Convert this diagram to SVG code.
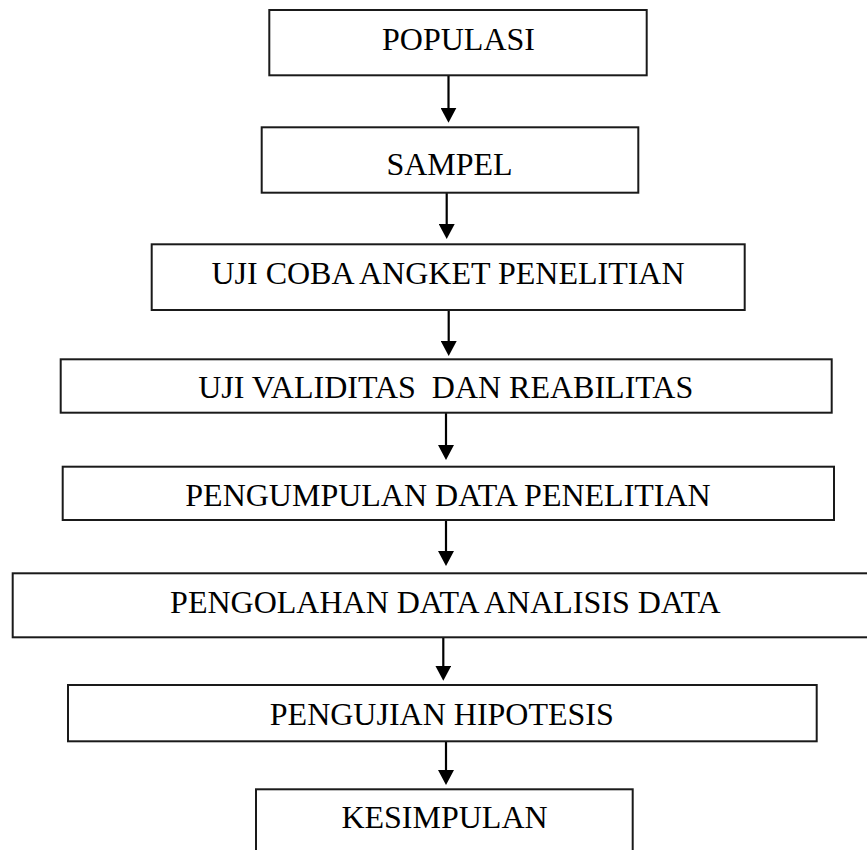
<svg xmlns="http://www.w3.org/2000/svg" width="867" height="850" viewBox="0 0 867 850">
  <style>
    .box { fill: #ffffff; stroke: #1a1a1a; stroke-width: 2; }
    .lbl { font-family: "Liberation Serif", "Times New Roman", serif; font-size: 32px; fill: #000000; text-anchor: middle; white-space: pre; }
    .con { stroke: #000000; stroke-width: 2.2; fill: none; marker-end: url(#arr); }
  </style>
  <defs>
    <marker id="arr" viewBox="0 0 15 16" refX="9" refY="8" markerWidth="15" markerHeight="16" markerUnits="userSpaceOnUse" orient="auto">
      <path d="M0,0 L15,8 L0,16 Z" fill="#000000"/>
    </marker>
  </defs>
  <rect width="867" height="850" fill="#ffffff"/>

  <g id="connectors">
    <line class="con" x1="448.5" y1="76" x2="448.5" y2="116.7"/>
    <line class="con" x1="446.7" y1="193" x2="446.7" y2="233"/>
    <line class="con" x1="448.7" y1="310" x2="448.7" y2="350"/>
    <line class="con" x1="446" y1="413" x2="446" y2="454"/>
    <line class="con" x1="446" y1="520" x2="446" y2="560"/>
    <line class="con" x1="443.3" y1="635" x2="443.3" y2="674.7"/>
    <line class="con" x1="446" y1="741" x2="446" y2="779"/>
  </g>

  <g id="populasi">
    <rect class="box" x="269.3" y="10" width="377.4" height="65.3"/>
    <text class="lbl" x="458.5" y="50">POPULASI</text>
  </g>
  <g id="sampel">
    <rect class="box" x="261.7" y="127.3" width="376.6" height="65.4"/>
    <text class="lbl" x="449.5" y="175">SAMPEL</text>
  </g>
  <g id="uji-coba">
    <rect class="box" x="151.7" y="244.3" width="593" height="65.7"/>
    <text class="lbl" x="448" y="284">UJI COBA ANGKET PENELITIAN</text>
  </g>
  <g id="uji-validitas">
    <rect class="box" x="60.7" y="359.3" width="771" height="53.4"/>
    <text class="lbl" x="445.7" y="398.3">UJI VALIDITAS  DAN REABILITAS</text>
  </g>
  <g id="pengumpulan">
    <rect class="box" x="62.7" y="466.7" width="771.3" height="53.3"/>
    <text class="lbl" x="448" y="506">PENGUMPULAN DATA PENELITIAN</text>
  </g>
  <g id="pengolahan">
    <rect class="box" x="12.7" y="573.3" width="860" height="64"/>
    <text class="lbl" x="445.3" y="613.3">PENGOLAHAN DATA ANALISIS DATA</text>
  </g>
  <g id="pengujian">
    <rect class="box" x="68" y="685" width="748.7" height="56.3"/>
    <text class="lbl" x="441.8" y="724.7">PENGUJIAN HIPOTESIS</text>
  </g>
  <g id="kesimpulan">
    <rect class="box" x="256" y="789.3" width="376.7" height="70"/>
    <text class="lbl" x="444.5" y="828.3">KESIMPULAN</text>
  </g>
</svg>
